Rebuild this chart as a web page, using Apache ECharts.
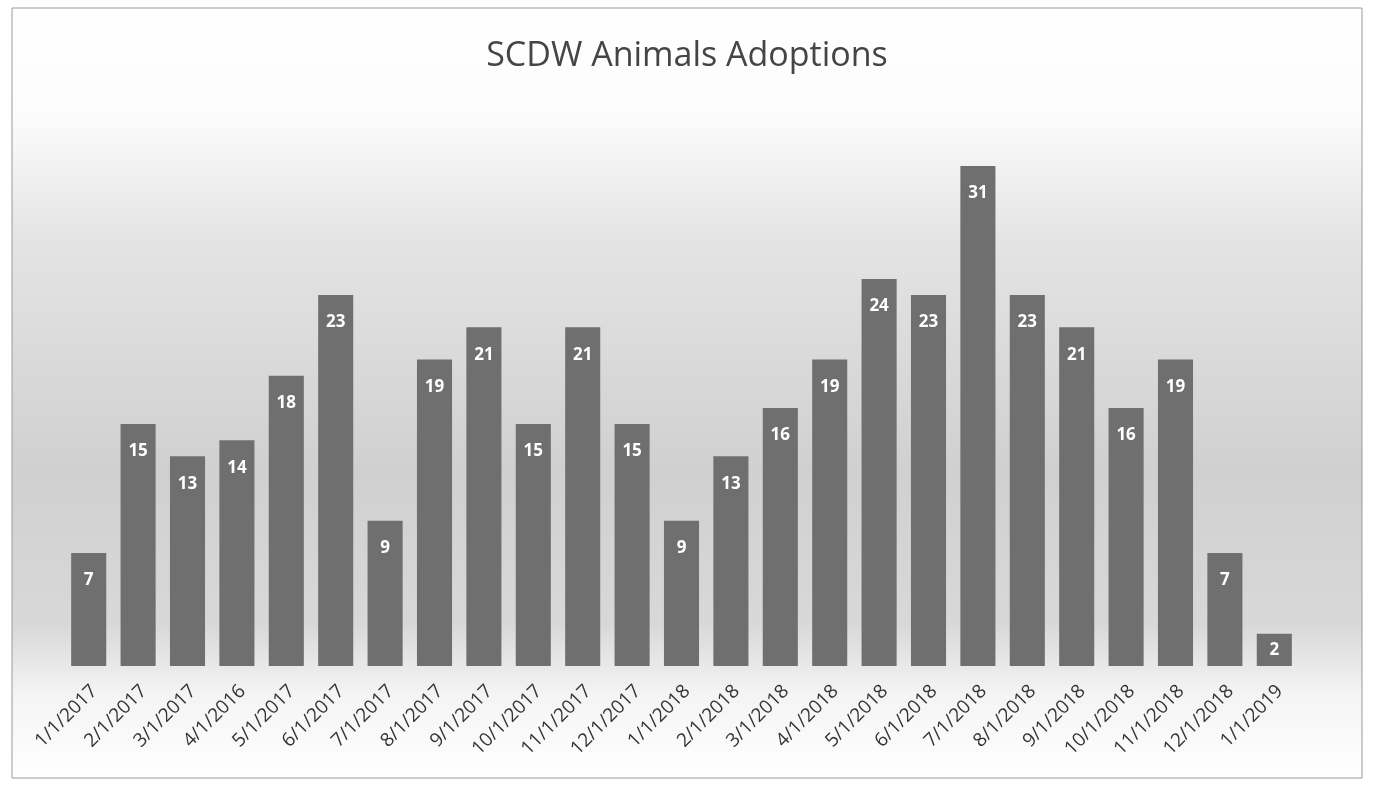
<!DOCTYPE html>
<html>
<head>
<meta charset="utf-8">
<script src="https://cdn.jsdelivr.net/npm/echarts@6/dist/echarts.min.js"></script>
<style>html,body{margin:0;padding:0;background:#fff;}#c{width:1374px;height:791px;}</style>
</head>
<body>
<div id="c"></div>
<script>
const categories = ["1/1/2017","2/1/2017","3/1/2017","4/1/2016","5/1/2017","6/1/2017","7/1/2017","8/1/2017","9/1/2017","10/1/2017","11/1/2017","12/1/2017","1/1/2018","2/1/2018","3/1/2018","4/1/2018","5/1/2018","6/1/2018","7/1/2018","8/1/2018","9/1/2018","10/1/2018","11/1/2018","12/1/2018","1/1/2019"];
const adoptions = [7,15,13,14,18,23,9,19,21,15,21,15,9,13,16,19,24,23,31,23,21,16,19,7,2];

const chart = echarts.init(document.getElementById('c'));
chart.setOption({
  backgroundColor: '#ffffff',
  animation: false,
  graphic: [
    {
      type: 'rect', z: -10, silent: true,
      shape: {x: 12, y: 8, width: 1350, height: 770},
      style: {
        fill: new echarts.graphic.LinearGradient(0, 0, 0, 1, [
          {offset: 0, color: '#ffffff'},
          {offset: 0.14, color: '#fcfcfc'},
          {offset: 0.3, color: '#e4e4e4'},
          {offset: 0.6, color: '#d0d0d0'},
          {offset: 0.8, color: '#d8d8d8'},
          {offset: 0.89, color: '#f4f4f4'},
          {offset: 1, color: '#ffffff'}
        ]),
        stroke: '#9a9a9a', lineWidth: 1
      }
    }
  ],
  title: {
    text: 'SCDW Animals Adoptions',
    left: 'center',
    top: 34,
    textStyle: {fontFamily: 'Open Sans', fontSize: 34, fontWeight: 'normal', color: '#454545'}
  },
  grid: {left: 64, right: 75, top: 166, bottom: 125},
  xAxis: {
    type: 'category',
    data: categories,
    axisLine: {show: false},
    axisTick: {show: false},
    axisLabel: {rotate: 45, fontFamily: 'Open Sans', fontSize: 19, color: '#333333', margin: 28, interval: 0, padding: [0, -8, 0, 0]}
  },
  yAxis: {
    type: 'value', min: 0, max: 31,
    show: false,
    splitLine: {show: false}
  },
  series: [{
    type: 'bar',
    data: adoptions.map(v => v < 4 ? {value: v, label: {position: 'inside'}} : v),
    barCategoryGap: '29%',
    itemStyle: {color: '#6f6f6f'},
    label: {
      show: true, position: 'insideTop', distance: 19,
      color: '#ffffff', fontFamily: 'Open Sans', fontSize: 17, fontWeight: 'bold'
    }
  }]
});
</script>
</body>
</html>
